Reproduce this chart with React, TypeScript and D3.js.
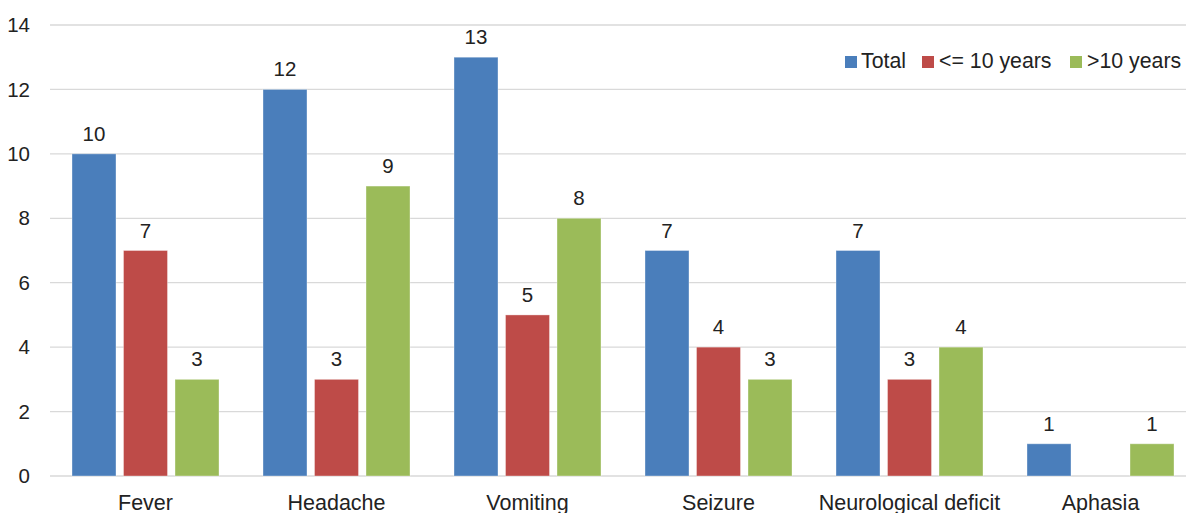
import React from "react";
import * as d3 from "d3";

const categories = ["Fever", "Headache", "Vomiting", "Seizure", "Neurological deficit", "Aphasia"];
const seriesNames = ["Total", "<= 10 years", ">10 years"];
const totalValues = [10, 12, 13, 7, 7, 1];
const under10Values = [7, 3, 5, 4, 3, 0];
const over10Values = [3, 9, 8, 3, 4, 1];
const yTicks = [0, 2, 4, 6, 8, 10, 12, 14];

const colors = ["#4a7ebb", "#be4b48", "#9bbb59"];
const seriesValues = [totalValues, under10Values, over10Values];

const W = 1186;
const H = 513;
const FONT = "'Liberation Sans', Arial, sans-serif";

export default function App() {
  const x = d3.scaleBand<string>().domain(categories).range([50, 1196]).padding(0);
  const inner = d3
    .scaleBand<string>()
    .domain(seriesNames)
    .range([22, x.bandwidth() - 22])
    .paddingInner(0.146)
    .paddingOuter(0);
  const y = d3.scaleLinear().domain([0, 14]).range([476, 25]);

  const legendItems = [
    { name: seriesNames[0], sx: 845, tx: 861 },
    { name: seriesNames[1], sx: 922, tx: 939 },
    { name: seriesNames[2], sx: 1070, tx: 1087 },
  ];

  return (
    <svg
      width={W}
      height={H}
      style={{ position: "absolute", left: 0, top: 0, display: "block", background: "#fff" }}
      fontFamily={FONT}
    >
      {yTicks.map((t) => (
        <g key={t}>
          <line x1={50} x2={W} y1={y(t)} y2={y(t)} stroke="#d9d9d9" strokeWidth={1.3} />
          <text x={30} y={y(t)} dy="0.35em" textAnchor="end" fontSize={20.5} fill="#222">
            {t}
          </text>
        </g>
      ))}
      {categories.map((c, ci) => (
        <g key={c} transform={`translate(${x(c)},0)`}>
          {seriesNames.map((s, si) => {
            const v = seriesValues[si][ci];
            if (!v) return null;
            const bx = inner(s)!;
            const bw = inner.bandwidth();
            return (
              <g key={s}>
                <rect
                  x={bx}
                  y={y(v)}
                  width={bw}
                  height={y(0) - y(v)}
                  fill={colors[si]}
                  stroke="rgba(255,255,255,0.35)"
                  strokeWidth={1}
                />
                <text x={bx + bw / 2} y={y(v) - 13} textAnchor="middle" fontSize={20.5} fill="#222">
                  {v}
                </text>
              </g>
            );
          })}
          <text x={x.bandwidth() / 2} y={510} textAnchor="middle" fontSize={21.5} fill="#222">
            {c}
          </text>
        </g>
      ))}
      {legendItems.map((l, i) => (
        <g key={l.name}>
          <rect x={l.sx} y={56} width={12} height={12} fill={colors[i]} />
          <text x={l.tx} y={67.5} fontSize={21.3} fill="#222">
            {l.name}
          </text>
        </g>
      ))}
    </svg>
  );
}
